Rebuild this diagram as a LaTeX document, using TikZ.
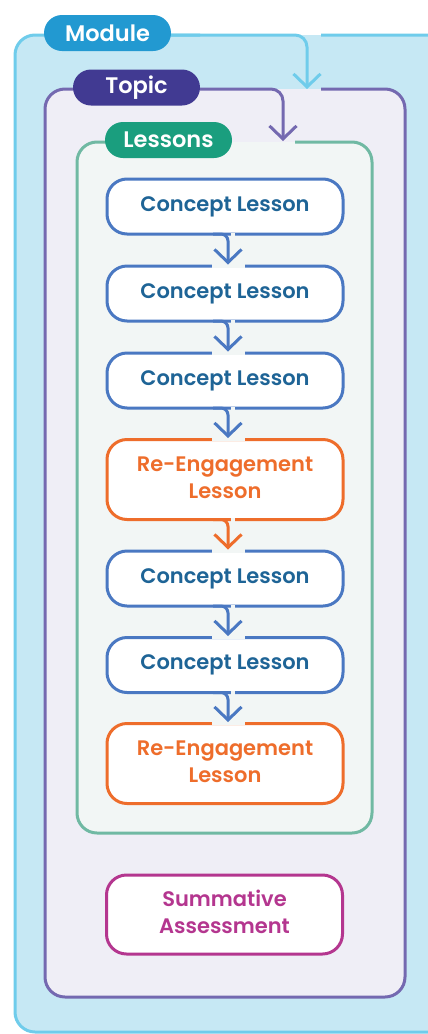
\documentclass[tikz,border=0pt]{standalone}
\usepackage{fontspec}
\setmainfont{Poppins}[BoldFont={Poppins SemiBold}]
\usetikzlibrary{arrows.meta,calc}
\definecolor{modfill}{HTML}{C6E8F4}
\definecolor{modline}{HTML}{6FCCEB}
\definecolor{modpill}{HTML}{2299D1}
\definecolor{topfill}{HTML}{EFEEF6}
\definecolor{topline}{HTML}{7469B0}
\definecolor{toppill}{HTML}{413A92}
\definecolor{lesfill}{HTML}{F2F6F5}
\definecolor{lesline}{HTML}{70B9A3}
\definecolor{lespill}{HTML}{1A9E7E}
\definecolor{cline}{HTML}{4A78C2}
\definecolor{ctext}{HTML}{1E6496}
\definecolor{rcol}{HTML}{EE6D2B}
\definecolor{scol}{HTML}{B4368F}
\tikzset{
  pill/.style={rounded corners=18pt, minimum width=127pt, minimum height=36pt, inner sep=0pt, text=white, font=\bfseries\fontsize{22.5}{26}\selectfont},
  lbox/.style={draw, fill=white, rounded corners=20pt, line width=3pt, minimum width=236pt, inner sep=0pt, align=center, font=\bfseries\fontsize{21}{27}\selectfont},
  concept/.style={lbox, draw=cline, text=ctext, minimum height=55pt},
  reeng/.style={lbox, draw=rcol, text=rcol, minimum height=80pt, text depth=4.5pt},
  summ/.style={lbox, draw=scol, text=scol, minimum height=79pt, text depth=5.5pt},
  barb/.style={-{Straight Barb[length=13pt,width=27pt,line width=3pt]}},
  conn/.style={line width=3pt, rounded corners=7pt, barb},
  gap/.style={draw=lesfill, line width=6pt}
}
\begin{document}
\begin{tikzpicture}[x=1pt,y=-1pt]
\useasboundingbox (0,0) rectangle (428,1034);
\fill[white] (0,0) rectangle (428,1034);
% Module
\begin{scope}
\clip (0,0) rectangle (428,1034);
\fill[modfill, rounded corners=20pt] (15,35) rectangle (460,1032);
\draw[modline, line width=3pt, rounded corners=20pt] (321,35) -- (460,35) -- (460,1032) -- (15,1032) -- (15,35) -- (200,35);
\end{scope}
\node[pill, fill=modpill] (mod) at (107.5,33) {Module};
\coordinate (modtip) at (307,89);
\draw[modline, line width=3pt, rounded corners=12pt, barb] (mod.east |- 0,35) -- (modtip |- 0,35) -- (modtip);
% Topic
\fill[topfill, rounded corners=20pt] (45,89) rectangle (405,997);
\draw[topline, line width=3pt, rounded corners=20pt] (321,89) -- (405,89) -- (405,997) -- (45,997) -- (45,89) -- (180,89);
\node[pill, fill=toppill] (top) at (136.5,87.5) {Topic};
\coordinate (toptip) at (283,141);
\draw[topline, line width=3pt, rounded corners=12pt, barb] (top.east |- 0,89) -- (toptip |- 0,89) -- (toptip);
% Lessons
\fill[lesfill, rounded corners=20pt] (77,142) rectangle (372,833);
\draw[lesline, line width=3pt, rounded corners=20pt] (295,142) -- (372,142) -- (372,833) -- (77,833) -- (77,142) -- (210,142);
\node[pill, fill=lespill] (les) at (168.5,140) {Lessons};
% boxes
\node[concept] (b1) at (225,206.5) {Concept Lesson};
\node[concept] (b2) at (225,293.5) {Concept Lesson};
\node[concept] (b3) at (225,380.5) {Concept Lesson};
\node[reeng]   (b4) at (225,479.5) {Re-Engagement\\Lesson};
\node[concept] (b5) at (225,578.5) {Concept Lesson};
\node[concept] (b6) at (225,665) {Concept Lesson};
\node[reeng]   (b7) at (225,763.5) {Re-Engagement\\Lesson};
\node[summ]    (b8) at (224.5,914.5) {Summative\\Assessment};
% connectors
\foreach \a/\b/\c in {b1/b2/cline,b2/b3/cline,b3/b4/cline,b4/b5/rcol,b5/b6/cline,b6/b7/cline}{
  \path (\a.south) coordinate (as) (\b.north) coordinate (bn);
  \path ([shift={(-12pt,1.5pt)}]as) coordinate (c0)
        ([shift={(3pt,1.5pt)}]as) coordinate (c1)
        ([shift={(-13pt,0pt)}]bn) coordinate (g0)
        ([shift={(20pt,0pt)}]bn) coordinate (g1)
        ([shift={(5.5pt,0pt)}]as) coordinate (h0)
        ([shift={(10pt,0pt)}]as) coordinate (h1);
  \draw[gap] (g0) -- (g1);
  \draw[gap] (h0) -- (h1);
  \draw[conn, draw=\c] (c0) -- (c1) -- (c1 |- bn);
}
\end{tikzpicture}
\end{document}
